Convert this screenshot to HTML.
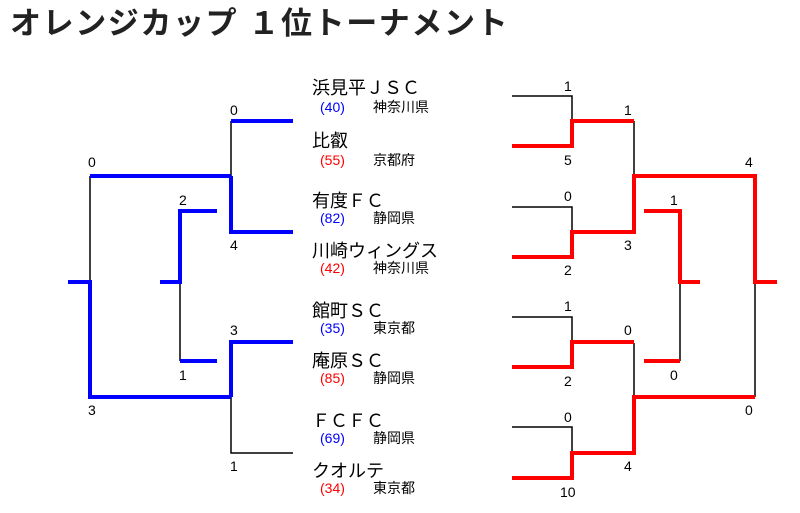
<!DOCTYPE html>
<html><head><meta charset="utf-8"><style>
body{margin:0;background:#fff;width:800px;height:513px;overflow:hidden;font-family:"Liberation Sans","Noto Sans CJK JP",sans-serif}
svg{position:absolute;left:0;top:0}
</style></head><body>
<svg width="800" height="513" xmlns="http://www.w3.org/2000/svg" font-family="Liberation Sans, Noto Sans CJK JP, sans-serif">
<text x="10" y="34" font-size="31" font-weight="bold" fill="#222" letter-spacing="1.6">オレンジカップ １位トーナメント</text>
<g fill="none" stroke-linecap="butt">
<g stroke="#000" stroke-width="1.5">
<path d="M231 121V176M231 397V453H293M90 176V282M180 282V361"/>
</g>
<g stroke="#00f" stroke-width="4">
<path d="M293 121H231M231 176V232H293M293 342H231V397M68 282H90V397H231M90 176H231M217 211H180V282H160M180 361H217"/>
</g>
<g stroke="#000" stroke-width="1.5">
<path d="M512 96H572V121M512 207H572V232M512 317H572V342M512 427H572V453M634 121V176M634 343V397M755 282V397M680 282V361"/>
</g>
<g stroke="#f00" stroke-width="4">
<path d="M512 146H572V121H634M512 257H572V232H634V176H755V282H777M512 367H572V342H634M512 478H572V453H634V397H755M644 211H680V282H700M644 361H680"/>
</g>
</g>
<g font-size="14" fill="#000">
<text x="230" y="115">0</text><text x="230" y="250">4</text>
<text x="230" y="335">3</text><text x="230" y="471">1</text>
<text x="88" y="167">0</text><text x="88" y="415">3</text>
<text x="179" y="205">2</text><text x="179" y="380">1</text>
<text x="564" y="91">1</text><text x="564" y="165">5</text>
<text x="564" y="201">0</text><text x="564" y="275">2</text>
<text x="564" y="311">1</text><text x="564" y="386">2</text>
<text x="564" y="422">0</text><text x="560" y="497">10</text>
<text x="624" y="115">1</text><text x="624" y="250">3</text>
<text x="624" y="335">0</text><text x="624" y="471">4</text>
<text x="745" y="167">4</text><text x="745" y="415">0</text>
<text x="670" y="205">1</text><text x="670" y="380">0</text>
</g>
<g font-size="18" fill="#000">
<text x="312" y="94">浜見平ＪＳＣ</text>
<text x="312" y="147">比叡</text>
<text x="312" y="207">有度ＦＣ</text>
<text x="312" y="257">川崎ウィングス</text>
<text x="312" y="317">館町ＳＣ</text>
<text x="312" y="367">庵原ＳＣ</text>
<text x="312" y="427">ＦＣＦＣ</text>
<text x="312" y="477">クオルテ</text>
</g>
<g font-size="14">
<text x="320" y="112" fill="#00f">(40)</text><text x="373" y="112">神奈川県</text>
<text x="320" y="165" fill="#f00">(55)</text><text x="373" y="165">京都府</text>
<text x="320" y="223" fill="#00f">(82)</text><text x="373" y="223">静岡県</text>
<text x="320" y="273" fill="#f00">(42)</text><text x="373" y="273">神奈川県</text>
<text x="320" y="333" fill="#00f">(35)</text><text x="373" y="333">東京都</text>
<text x="320" y="383" fill="#f00">(85)</text><text x="373" y="383">静岡県</text>
<text x="320" y="443" fill="#00f">(69)</text><text x="373" y="443">静岡県</text>
<text x="320" y="493" fill="#f00">(34)</text><text x="373" y="493">東京都</text>
</g>
</svg>
</body></html>
